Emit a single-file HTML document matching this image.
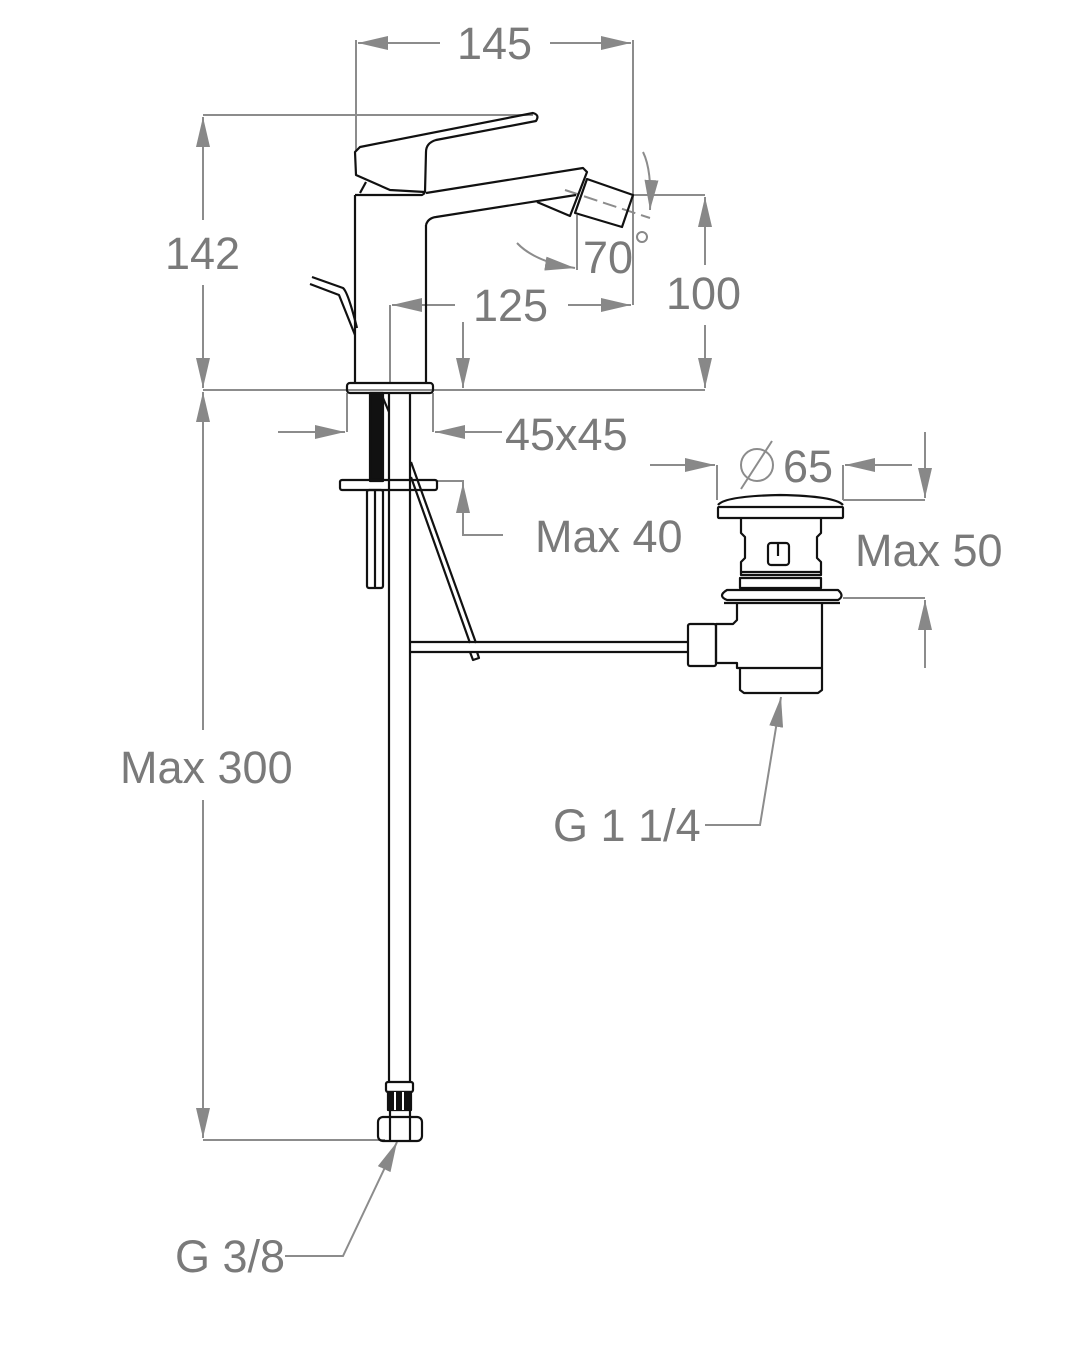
<!DOCTYPE html>
<html><head><meta charset="utf-8"><style>
html,body{margin:0;padding:0;background:#fff;}
svg{display:block;}
text{font-family:"Liberation Sans",sans-serif;fill:#7a7a7a;font-size:45px;}
</style></head><body>
<svg width="1080" height="1350" viewBox="0 0 1080 1350" xmlns="http://www.w3.org/2000/svg">
<defs>
<marker id="a" viewBox="0 0 30 14" refX="30" refY="7" markerWidth="30" markerHeight="14" markerUnits="userSpaceOnUse" orient="auto">
<path d="M0,0 L30,7 L0,14 Z" fill="#888"/></marker>
</defs>
<g stroke="#8c8c8c" stroke-width="2" fill="none">
<line x1="356" y1="40" x2="356" y2="150"/>
<line x1="633" y1="40" x2="633" y2="305"/>
<line x1="440" y1="43" x2="358" y2="43" marker-end="url(#a)"/>
<line x1="550" y1="43" x2="631" y2="43" marker-end="url(#a)"/>
<line x1="203" y1="115" x2="533" y2="115"/>
<line x1="203" y1="390" x2="705" y2="390"/>
<line x1="203" y1="220" x2="203" y2="117" marker-end="url(#a)"/>
<line x1="203" y1="285" x2="203" y2="388" marker-end="url(#a)"/>
<line x1="203" y1="730" x2="203" y2="392" marker-end="url(#a)"/>
<line x1="203" y1="800" x2="203" y2="1138" marker-end="url(#a)"/>
<line x1="203" y1="1140" x2="385" y2="1140"/>
<line x1="633" y1="195" x2="705" y2="195"/>
<line x1="705" y1="265" x2="705" y2="197" marker-end="url(#a)"/>
<line x1="705" y1="325" x2="705" y2="388" marker-end="url(#a)"/>
<line x1="390" y1="305" x2="390" y2="383"/>
<line x1="455" y1="305" x2="392" y2="305" marker-end="url(#a)"/>
<line x1="568" y1="305" x2="631" y2="305" marker-end="url(#a)"/>
<line x1="463" y1="322" x2="463" y2="388" marker-end="url(#a)"/>
<line x1="577" y1="215" x2="577" y2="270"/>
<path d="M517,243 Q535,262 575,268" marker-end="url(#a)"/>
<path d="M643,152 Q652,170 650,210" marker-end="url(#a)"/>
<line x1="565" y1="190" x2="650" y2="218" stroke-dasharray="14,6"/>
<line x1="347" y1="393" x2="347" y2="432"/>
<line x1="433" y1="393" x2="433" y2="432"/>
<line x1="278" y1="432" x2="345" y2="432" marker-end="url(#a)"/>
<line x1="502" y1="432" x2="435" y2="432" marker-end="url(#a)"/>
<path d="M437,481 H463 V535 H503"/>
<line x1="463" y1="525" x2="463" y2="483" marker-end="url(#a)"/>
<line x1="717" y1="465" x2="717" y2="500"/>
<line x1="843" y1="465" x2="843" y2="500"/>
<line x1="650" y1="465" x2="715" y2="465" marker-end="url(#a)"/>
<line x1="912" y1="465" x2="845" y2="465" marker-end="url(#a)"/>
<circle cx="757" cy="465" r="16"/>
<line x1="741" y1="489" x2="772" y2="441"/>
<line x1="843" y1="500" x2="925" y2="500"/>
<line x1="925" y1="432" x2="925" y2="498" marker-end="url(#a)"/>
<line x1="843" y1="598" x2="925" y2="598"/>
<line x1="925" y1="668" x2="925" y2="600" marker-end="url(#a)"/>
<path d="M705,825 H760 L781,697" marker-end="url(#a)"/>
<path d="M285,1256 H343 L397,1142" marker-end="url(#a)"/>
</g>
<g stroke="#111" stroke-width="2.2" fill="none" stroke-linejoin="round">
<path d="M360,147 L533,113 Q540,115 536,121 L436,140 Q426,143 426,152 L425,192 L390,190 L356,175 L355,152 Z"/>
<path d="M360,193 L366,182"/>
<path d="M355,195 H422 L425,193"/>
<line x1="355" y1="195" x2="355" y2="383"/>
<line x1="426" y1="225" x2="426" y2="383"/>
<path d="M426,193 L583,168 L587,172 L570,216 L537,202"/>
<path d="M426,225 Q428,218 436,217 L576,195"/>
<path d="M587,179 L633,195 L622,227 L575,213 Z"/>
<path d="M312,277 L343,288 Q348,292 357,328 M310,284 L339,295 L355,335"/>
<rect x="347" y="383" width="86" height="10" rx="3"/>
<rect x="370" y="393" width="13" height="88" fill="#111"/>
<path d="M383,398 L389,412"/>
<rect x="340" y="480" width="97" height="10" rx="2"/>
<rect x="367" y="490" width="16" height="98" rx="2"/>
<line x1="375" y1="490" x2="375" y2="588"/>
<line x1="389" y1="393" x2="389" y2="1083"/>
<line x1="410" y1="393" x2="410" y2="1083"/>
<path d="M411,462 L476,643 M411,477 L470,643"/>
<path d="M470,652 L473,660 L479,658 L477,652"/>
<line x1="410" y1="642" x2="688" y2="642"/>
<line x1="410" y1="652" x2="688" y2="652"/>
<path d="M718,505 Q725,496 780,495 Q835,496 843,505"/>
<rect x="718" y="507" width="125" height="11" rx="1"/>
<path d="M741,518 V533 L745,537 V558 L741,562 V575 H821 V562 L817,558 V537 L821,533 V518"/>
<line x1="741" y1="572" x2="821" y2="572"/>
<rect x="768" y="543" width="21" height="22" rx="3"/>
<line x1="778" y1="543" x2="778" y2="556"/>
<rect x="740" y="578" width="81" height="10"/>
<path d="M727,590 H838 Q845,596 838,600 H727 Q717,596 727,590 Z"/>
<line x1="724" y1="603" x2="840" y2="603"/>
<path d="M737,603 V620 L733,624 H716 V663 H737 V668 H822 V603"/>
<rect x="688" y="624" width="28" height="42" rx="2"/>
<path d="M740,668 V690 L744,693 H818 L822,690 V668"/>
<rect x="386" y="1082" width="27" height="10" rx="2"/>
<rect x="388" y="1092" width="23" height="18" fill="#111"/>
<line x1="395" y1="1092" x2="395" y2="1110" stroke="#fff" stroke-width="2"/>
<line x1="403" y1="1092" x2="403" y2="1110" stroke="#fff" stroke-width="2"/>
<line x1="390" y1="1110" x2="390" y2="1117"/>
<line x1="410" y1="1110" x2="410" y2="1117"/>
<rect x="378" y="1117" width="44" height="24" rx="5"/>
<line x1="390" y1="1117" x2="390" y2="1141"/>
<line x1="410" y1="1117" x2="410" y2="1141"/>
</g>
<text x="457" y="59">145</text>
<text x="165" y="269">142</text>
<text x="666" y="309">100</text>
<text x="473" y="321">125</text>
<text x="583" y="273">70</text>
<circle cx="642" cy="237" r="5" fill="none" stroke="#888" stroke-width="2"/>
<text x="505" y="450">45x45</text>
<text x="535" y="552">Max 40</text>
<text x="783" y="482">65</text>
<text x="855" y="566">Max 50</text>
<text x="120" y="783">Max 300</text>
<text x="553" y="841">G 1 1/4</text>
<text x="175" y="1272">G 3/8</text>
</svg>
</body></html>
